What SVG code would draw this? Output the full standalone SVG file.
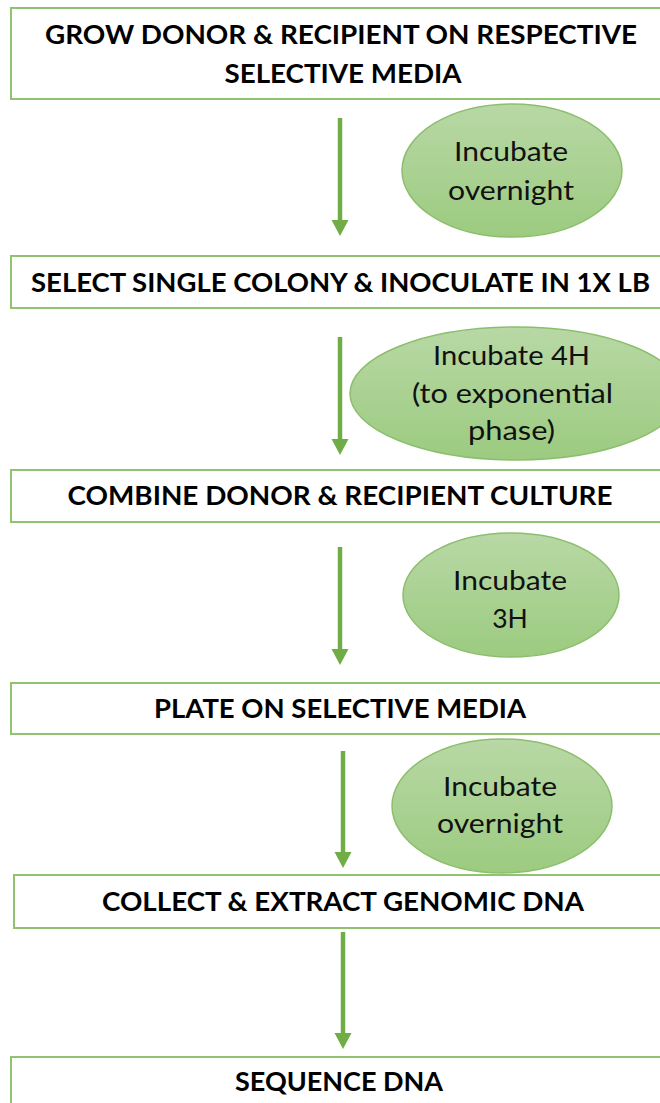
<svg xmlns="http://www.w3.org/2000/svg" width="660" height="1103" viewBox="0 0 660 1103">
<style>
.box{fill:#fff;stroke:#8fc36f;stroke-width:2}
.bt{font-family:Lato,"Liberation Sans",sans-serif;font-weight:bold;font-size:26.5px;fill:#000;text-anchor:middle}
.el{fill:url(#eg);stroke:#8cbe6d;stroke-width:1.5}
.et{font-family:Lato,"Liberation Sans",sans-serif;font-size:26.5px;fill:#111;text-anchor:middle}
.ar{stroke:#70ad47;stroke-width:4.5;fill:none}
.ah{fill:#70ad47}
</style>
<defs>
<linearGradient id="eg" x1="0" y1="0" x2="0" y2="1">
<stop offset="0" stop-color="#b8d8a5"/>
<stop offset="1" stop-color="#9ccb80"/>
</linearGradient>
</defs>
<rect width="660" height="1103" fill="#fff"/>
<g id="connectors">
<line class="ar" x1="340" y1="118" x2="340" y2="222"/><polygon class="ah" points="331.5,220 348.5,220 340,236"/>
<line class="ar" x1="340" y1="337" x2="340" y2="441"/><polygon class="ah" points="331.5,439 348.5,439 340,455"/>
<line class="ar" x1="340" y1="547" x2="340" y2="651"/><polygon class="ah" points="331.5,649 348.5,649 340,665"/>
<line class="ar" x1="343" y1="751" x2="343" y2="854"/><polygon class="ah" points="334.5,852 351.5,852 343,868"/>
<line class="ar" x1="343" y1="932" x2="343" y2="1035"/><polygon class="ah" points="334.5,1033 351.5,1033 343,1049"/>
</g>
<g id="step1">
<rect class="box" x="11" y="8" width="680" height="91"/>
<text class="bt" x="341" y="43.5" textLength="592" lengthAdjust="spacingAndGlyphs">GROW DONOR &amp; RECIPIENT ON RESPECTIVE</text>
<text class="bt" x="343" y="82.5" textLength="237" lengthAdjust="spacingAndGlyphs">SELECTIVE MEDIA</text>
</g>
<g id="incubate1">
<ellipse class="el" cx="512" cy="170.5" rx="110" ry="66.5"/>
<text class="et" x="511" y="161" textLength="114" lengthAdjust="spacingAndGlyphs">Incubate</text>
<text class="et" x="511" y="200" textLength="126" lengthAdjust="spacingAndGlyphs">overnight</text>
</g>
<g id="step2">
<rect class="box" x="11" y="256" width="680" height="52"/>
<text class="bt" x="340.5" y="292" textLength="619" lengthAdjust="spacingAndGlyphs">SELECT SINGLE COLONY &amp; INOCULATE IN 1X LB</text>
</g>
<g id="incubate2">
<ellipse class="el" cx="516" cy="393.5" rx="166" ry="66.5"/>
<text class="et" x="511.5" y="365" textLength="157" lengthAdjust="spacingAndGlyphs">Incubate 4H</text>
<text class="et" x="512.5" y="403" textLength="201" lengthAdjust="spacingAndGlyphs">(to exponential</text>
<text class="et" x="511.5" y="440" textLength="87" lengthAdjust="spacingAndGlyphs">phase)</text>
</g>
<g id="step3">
<rect class="box" x="11" y="470" width="680" height="52"/>
<text class="bt" x="340" y="505" textLength="545" lengthAdjust="spacingAndGlyphs">COMBINE DONOR &amp; RECIPIENT CULTURE</text>
</g>
<g id="incubate3">
<ellipse class="el" cx="511" cy="595" rx="108" ry="62"/>
<text class="et" x="510" y="590" textLength="114" lengthAdjust="spacingAndGlyphs">Incubate</text>
<text class="et" x="510" y="628">3H</text>
</g>
<g id="step4">
<rect class="box" x="11" y="683" width="680" height="51"/>
<text class="bt" x="340" y="718" textLength="372" lengthAdjust="spacingAndGlyphs">PLATE ON SELECTIVE MEDIA</text>
</g>
<g id="incubate4">
<ellipse class="el" cx="502" cy="806" rx="110" ry="67"/>
<text class="et" x="500" y="796" textLength="114" lengthAdjust="spacingAndGlyphs">Incubate</text>
<text class="et" x="500" y="833" textLength="126" lengthAdjust="spacingAndGlyphs">overnight</text>
</g>
<g id="step5">
<rect class="box" x="14" y="875" width="680" height="53"/>
<text class="bt" x="343" y="911" textLength="482" lengthAdjust="spacingAndGlyphs">COLLECT &amp; EXTRACT GENOMIC DNA</text>
</g>
<g id="step6">
<rect class="box" x="11" y="1057" width="680" height="80"/>
<text class="bt" x="339" y="1091" textLength="208" lengthAdjust="spacingAndGlyphs">SEQUENCE DNA</text>
</g>
</svg>
